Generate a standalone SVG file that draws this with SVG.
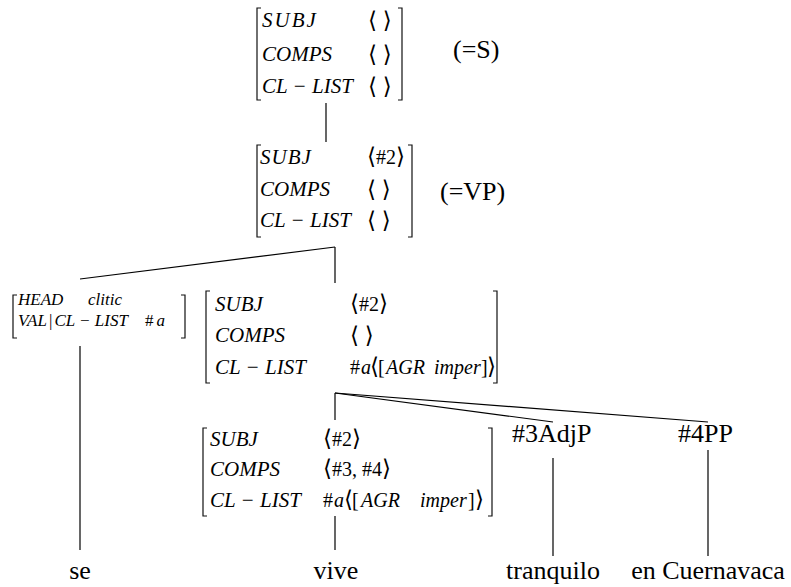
<svg xmlns="http://www.w3.org/2000/svg" width="791" height="587" viewBox="0 0 791 587">
<style>
  .br{fill:none;stroke:#111;stroke-width:1.2}
  .ln{fill:none;stroke:#000;stroke-width:1.2}
  .it{font-family:"Liberation Serif","DejaVu Serif",serif;font-style:italic;font-size:21px;fill:#000}
  .up{font-family:"Liberation Serif","DejaVu Serif",serif;font-size:20px;fill:#000}
  .ab{font-family:"Liberation Serif","DejaVu Serif",serif;font-size:23px;fill:#000}
  .sm{font-family:"Liberation Serif","DejaVu Serif",serif;font-style:italic;font-size:17px;fill:#000}
  .lab{font-family:"Liberation Serif","DejaVu Serif",serif;font-size:26px;fill:#000}
  .i{font-style:italic}
  .n{font-style:normal}
  .a{font-size:23px}
</style>
<rect width="791" height="587" fill="#fff"/>
<g id="connectors">
  <line class="ln" x1="326" y1="103" x2="326" y2="142"/>
  <line class="ln" x1="335" y1="247" x2="80" y2="279"/>
  <line class="ln" x1="335" y1="247" x2="335" y2="283"/>
  <line class="ln" x1="80" y1="346" x2="80" y2="550"/>
  <line class="ln" x1="335" y1="393" x2="335" y2="420"/>
  <line class="ln" x1="335" y1="393" x2="553" y2="422"/>
  <line class="ln" x1="335" y1="393" x2="708" y2="422"/>
  <line class="ln" x1="335" y1="516" x2="335" y2="550"/>
  <line class="ln" x1="553" y1="458" x2="553" y2="556"/>
  <line class="ln" x1="708" y1="450" x2="708" y2="556"/>
</g>
<g id="S">
  <path class="br" d="M261 8 H257 V100 H261"/>
  <path class="br" d="M398 8 H402 V100 H398"/>
  <text class="it" x="262" y="27" letter-spacing="2">SUBJ</text>
  <text class="it" x="262" y="61">COMPS</text>
  <text class="it" x="262" y="93">CL − LIST</text>
  <text class="ab" x="368" y="28">⟨ ⟩</text>
  <text class="ab" x="368" y="62">⟨ ⟩</text>
  <text class="ab" x="368" y="94">⟨ ⟩</text>
  <text class="lab" x="453" y="58">(=S)</text>
</g>
<g id="VP">
  <path class="br" d="M261 145 H257 V237 H261"/>
  <path class="br" d="M408 145 H412 V237 H408"/>
  <text class="it" x="260" y="164" letter-spacing="1">SUBJ</text>
  <text class="it" x="260" y="196">COMPS</text>
  <text class="it" x="260" y="227">CL − LIST</text>
  <text class="up" x="367" y="164"><tspan class="a">⟨</tspan>#2<tspan class="a">⟩</tspan></text>
  <text class="ab" x="367" y="197">⟨ ⟩</text>
  <text class="ab" x="367" y="228">⟨ ⟩</text>
  <text class="lab" x="440" y="200">(=VP)</text>
</g>
<g id="clitic">
  <path class="br" d="M17 295 H13 V338 H17"/>
  <path class="br" d="M181 295 H185 V338 H181"/>
  <text class="sm" x="18" y="305">HEAD</text>
  <text class="sm" x="88" y="305">clitic</text>
  <text class="sm" x="18" y="326">VAL<tspan class="n" dx="2">|</tspan><tspan dx="2">CL − LIST</tspan></text>
  <text class="sm" x="145" y="326"><tspan class="n">#</tspan><tspan dx="3">a</tspan></text>
</g>
<g id="Vbar">
  <path class="br" d="M210 291 H206 V383 H210"/>
  <path class="br" d="M493 291 H497 V383 H493"/>
  <text class="it" x="215" y="311">SUBJ</text>
  <text class="it" x="215" y="342">COMPS</text>
  <text class="it" x="215" y="374">CL − LIST</text>
  <text class="up" x="350" y="311"><tspan class="a">⟨</tspan>#2<tspan class="a">⟩</tspan></text>
  <text class="ab" x="350" y="343">⟨ ⟩</text>
  <text class="up" y="374"><tspan x="350">#</tspan><tspan class="i" x="361">a</tspan><tspan class="a" x="370">⟨</tspan><tspan x="378">[</tspan><tspan class="i" x="386">AGR</tspan><tspan class="i" x="434">imper</tspan><tspan x="481">]</tspan><tspan class="a" x="487">⟩</tspan></text>
</g>
<g id="V">
  <path class="br" d="M207 428 H203 V516 H207"/>
  <path class="br" d="M488 428 H492 V516 H488"/>
  <text class="it" x="210" y="446">SUBJ</text>
  <text class="it" x="210" y="476">COMPS</text>
  <text class="it" x="210" y="507">CL − LIST</text>
  <text class="up" x="323" y="446"><tspan class="a">⟨</tspan>#2<tspan class="a">⟩</tspan></text>
  <text class="up" x="323" y="476"><tspan class="a">⟨</tspan>#3, #4<tspan class="a">⟩</tspan></text>
  <text class="up" y="507"><tspan x="323">#</tspan><tspan class="i" x="334">a</tspan><tspan class="a" x="344">⟨</tspan><tspan x="352">[</tspan><tspan class="i" x="361">AGR</tspan><tspan class="i" x="420">imper</tspan><tspan x="468">]</tspan><tspan class="a" x="475">⟩</tspan></text>
</g>
<g id="AdjP">
  <text class="lab" x="512" y="442">#3AdjP</text>
</g>
<g id="PP">
  <text class="lab" x="678" y="442">#4PP</text>
</g>
<g id="words">
  <text class="lab" x="80" y="579" text-anchor="middle">se</text>
  <text class="lab" x="336" y="579" text-anchor="middle">vive</text>
  <text class="lab" x="553" y="579" text-anchor="middle">tranquilo</text>
  <text class="lab" x="708" y="579" text-anchor="middle">en Cuernavaca</text>
</g>
</svg>
